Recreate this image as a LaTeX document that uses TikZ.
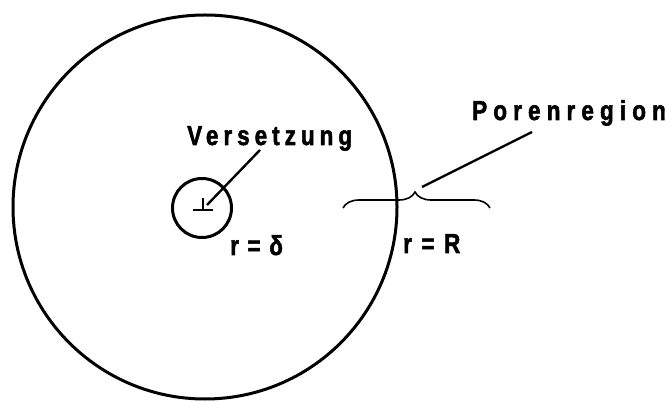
\documentclass[tikz,border=0pt]{standalone}
\usepackage{fontspec}
\setmainfont{Liberation Sans}
\usetikzlibrary{decorations.pathreplacing}
\newcommand{\narrowtxt}[2]{\scalebox{0.82}[1]{\addfontfeature{LetterSpace=#1,FakeBold=2}#2}}
\tikzset{
  lbl/.style={inner sep=0pt, anchor=base west, font=\fontsize{27.5}{27.5}\selectfont\bfseries},
  ring/.style={line width=3pt},
  leader/.style={line width=2.4pt},
}
\begin{document}
\begin{tikzpicture}[x=1pt,y=1pt]
\useasboundingbox (0,0) rectangle (671,401);
% outer circle r = R
\node[ring, draw, circle, minimum size=384pt, inner sep=0pt] (outer) at (205,194) {};
% inner circle r = delta
\node[ring, draw, circle, minimum size=59pt, inner sep=0pt] (inner) at (202,193) {};
% dislocation symbol
\coordinate (barL) at (193,191);
\coordinate (barR) at (213,191);
\coordinate (stemT) at (203,203);
\coordinate (stemB) at (203,191);
\draw[line width=2.2pt] (barL) -- (barR);
\draw[line width=2.2pt] (stemT) -- (stemB);
% labels
\node[lbl] (vers) at (187,256) {\narrowtxt{22}{Versetzung}};
\node[lbl] (pore) at (472,281) {\narrowtxt{27}{Porenregion}};
\node[lbl] (rdelta) at (230,146) {\narrowtxt{38}{r=δ}};
\node[lbl] (rR) at (403,148) {\narrowtxt{42}{r=R}};
% leaders
\coordinate (vtail) at (260,251);
\coordinate (disl) at (207,196);
\draw[leader] (vtail) -- (disl);
\coordinate (ptail) at (532,269);
\coordinate (btip) at (422,214);
\draw[leader] (ptail) -- (btip);
% brace
\coordinate (bL) at (343,193);
\coordinate (bR) at (490,193);
\draw[line width=1.6pt, decorate, decoration={brace, amplitude=16pt, aspect=0.49}] (bL) -- (bR);
\end{tikzpicture}
\end{document}
